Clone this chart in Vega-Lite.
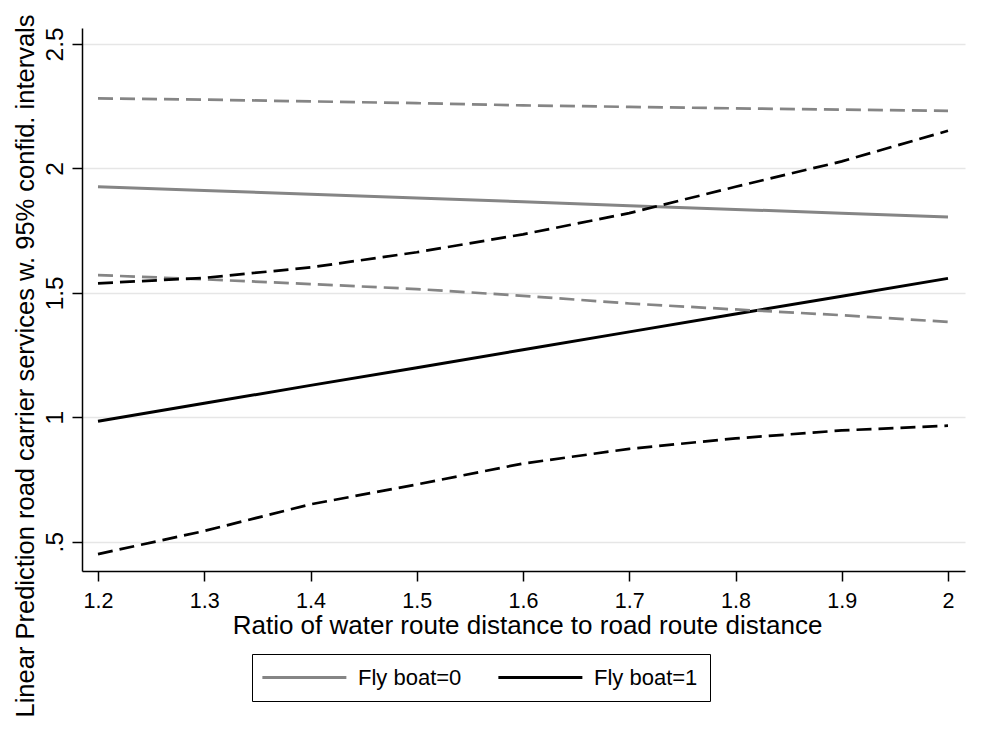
{
  "$schema": "https://vega.github.io/schema/vega-lite/v6.json",
  "width": 883,
  "height": 543,
  "autosize": {"type": "none"},
  "padding": {"left": 82, "top": 28, "right": 16, "bottom": 159},
  "background": "white",
  "config": {"view": {"stroke": null}, "font": "Liberation Sans"},
  "data": {"values": [
    {"ratio": 1.2, "group": "Fly boat=0", "kind": "fit", "value": 1.926},
    {"ratio": 1.3, "group": "Fly boat=0", "kind": "fit", "value": 1.911},
    {"ratio": 1.4, "group": "Fly boat=0", "kind": "fit", "value": 1.896},
    {"ratio": 1.5, "group": "Fly boat=0", "kind": "fit", "value": 1.881},
    {"ratio": 1.6, "group": "Fly boat=0", "kind": "fit", "value": 1.866},
    {"ratio": 1.7, "group": "Fly boat=0", "kind": "fit", "value": 1.850},
    {"ratio": 1.8, "group": "Fly boat=0", "kind": "fit", "value": 1.835},
    {"ratio": 1.9, "group": "Fly boat=0", "kind": "fit", "value": 1.820},
    {"ratio": 2.0, "group": "Fly boat=0", "kind": "fit", "value": 1.805},
    {"ratio": 1.2, "group": "Fly boat=0", "kind": "lower", "value": 1.571},
    {"ratio": 1.3, "group": "Fly boat=0", "kind": "lower", "value": 1.554},
    {"ratio": 1.4, "group": "Fly boat=0", "kind": "lower", "value": 1.535},
    {"ratio": 1.5, "group": "Fly boat=0", "kind": "lower", "value": 1.515},
    {"ratio": 1.6, "group": "Fly boat=0", "kind": "lower", "value": 1.488},
    {"ratio": 1.7, "group": "Fly boat=0", "kind": "lower", "value": 1.457},
    {"ratio": 1.8, "group": "Fly boat=0", "kind": "lower", "value": 1.433},
    {"ratio": 1.9, "group": "Fly boat=0", "kind": "lower", "value": 1.410},
    {"ratio": 2.0, "group": "Fly boat=0", "kind": "lower", "value": 1.383},
    {"ratio": 1.2, "group": "Fly boat=0", "kind": "upper", "value": 2.281},
    {"ratio": 1.3, "group": "Fly boat=0", "kind": "upper", "value": 2.276},
    {"ratio": 1.4, "group": "Fly boat=0", "kind": "upper", "value": 2.269},
    {"ratio": 1.5, "group": "Fly boat=0", "kind": "upper", "value": 2.262},
    {"ratio": 1.6, "group": "Fly boat=0", "kind": "upper", "value": 2.253},
    {"ratio": 1.7, "group": "Fly boat=0", "kind": "upper", "value": 2.247},
    {"ratio": 1.8, "group": "Fly boat=0", "kind": "upper", "value": 2.241},
    {"ratio": 1.9, "group": "Fly boat=0", "kind": "upper", "value": 2.236},
    {"ratio": 2.0, "group": "Fly boat=0", "kind": "upper", "value": 2.231},
    {"ratio": 1.2, "group": "Fly boat=1", "kind": "fit", "value": 0.984},
    {"ratio": 1.3, "group": "Fly boat=1", "kind": "fit", "value": 1.056},
    {"ratio": 1.4, "group": "Fly boat=1", "kind": "fit", "value": 1.128},
    {"ratio": 1.5, "group": "Fly boat=1", "kind": "fit", "value": 1.199},
    {"ratio": 1.6, "group": "Fly boat=1", "kind": "fit", "value": 1.271},
    {"ratio": 1.7, "group": "Fly boat=1", "kind": "fit", "value": 1.343},
    {"ratio": 1.8, "group": "Fly boat=1", "kind": "fit", "value": 1.415},
    {"ratio": 1.9, "group": "Fly boat=1", "kind": "fit", "value": 1.486},
    {"ratio": 2.0, "group": "Fly boat=1", "kind": "fit", "value": 1.558},
    {"ratio": 1.2, "group": "Fly boat=1", "kind": "lower", "value": 0.450},
    {"ratio": 1.3, "group": "Fly boat=1", "kind": "lower", "value": 0.543},
    {"ratio": 1.4, "group": "Fly boat=1", "kind": "lower", "value": 0.650},
    {"ratio": 1.5, "group": "Fly boat=1", "kind": "lower", "value": 0.730},
    {"ratio": 1.6, "group": "Fly boat=1", "kind": "lower", "value": 0.814},
    {"ratio": 1.7, "group": "Fly boat=1", "kind": "lower", "value": 0.873},
    {"ratio": 1.8, "group": "Fly boat=1", "kind": "lower", "value": 0.915},
    {"ratio": 1.9, "group": "Fly boat=1", "kind": "lower", "value": 0.947},
    {"ratio": 2.0, "group": "Fly boat=1", "kind": "lower", "value": 0.966},
    {"ratio": 1.2, "group": "Fly boat=1", "kind": "upper", "value": 1.538},
    {"ratio": 1.3, "group": "Fly boat=1", "kind": "upper", "value": 1.560},
    {"ratio": 1.4, "group": "Fly boat=1", "kind": "upper", "value": 1.602},
    {"ratio": 1.5, "group": "Fly boat=1", "kind": "upper", "value": 1.663},
    {"ratio": 1.6, "group": "Fly boat=1", "kind": "upper", "value": 1.735},
    {"ratio": 1.7, "group": "Fly boat=1", "kind": "upper", "value": 1.820},
    {"ratio": 1.8, "group": "Fly boat=1", "kind": "upper", "value": 1.926},
    {"ratio": 1.9, "group": "Fly boat=1", "kind": "upper", "value": 2.028},
    {"ratio": 2.0, "group": "Fly boat=1", "kind": "upper", "value": 2.151}
  ]},
  "encoding": {
    "x": {
      "field": "ratio", "type": "quantitative",
      "scale": {"domain": [1.18494, 2.016], "nice": false, "zero": false},
      "axis": {
        "title": "Ratio of water route distance to road route distance",
        "values": [1.2, 1.3, 1.4, 1.5, 1.6, 1.7, 1.8, 1.9, 2],
        "format": "~g",
        "grid": false,
        "domainColor": "#000", "domainWidth": 1.5,
        "tickColor": "#000", "tickSize": 10, "tickWidth": 1.5,
        "labelFontSize": 21.5, "labelColor": "#000", "labelPadding": 9,
        "labelFlush": false, "labelOverlap": false,
        "titleFontSize": 26, "titleFontWeight": "normal", "titleColor": "#000",
        "titleBaseline": "alphabetic", "titleY": 62, "titleX": 445
      }
    },
    "y": {
      "field": "value", "type": "quantitative",
      "scale": {"domain": [0.3822, 2.5639], "nice": false, "zero": false},
      "axis": {
        "title": "Linear Prediction road carrier services w. 95% confid. intervals",
        "values": [0.5, 1, 1.5, 2, 2.5],
        "labelExpr": "datum.value == 0.5 ? '.5' : format(datum.value, '~g')",
        "grid": true, "gridColor": "#e6e6e6", "gridWidth": 1.5,
        "domainColor": "#000", "domainWidth": 1.5,
        "tickColor": "#000", "tickSize": 10, "tickWidth": 1.5,
        "labelAngle": -90, "labelAlign": "center", "labelBaseline": "alphabetic",
        "labelPadding": 10, "labelFontSize": 24.5, "labelColor": "#000",
        "titleFontSize": 25.5, "titleFontWeight": "normal", "titleColor": "#000",
        "titleAngle": -90, "titleAlign": "center", "titleBaseline": "alphabetic",
        "titleX": -49, "titleY": 337.5
      }
    }
  },
  "layer": [
    {
      "transform": [{"filter": "datum.kind == 'fit'"}],
      "mark": {"type": "line", "strokeWidth": 3},
      "encoding": {
        "color": {
          "field": "group", "type": "nominal",
          "scale": {"domain": ["Fly boat=0", "Fly boat=1"], "range": ["#858585", "#000000"]},
          "legend": {
            "orient": "none", "legendX": 170, "legendY": 626,
            "direction": "horizontal", "title": null,
            "strokeColor": "#000", "padding": 12.5,
            "symbolType": "M-2.5,0L13.5,0", "symbolSize": 110.25, "symbolStrokeWidth": 3,
            "labelFontSize": 22, "labelColor": "#000", "labelOffset": 71.5,
            "columnPadding": 30, "labelLimit": 300
          }
        }
      }
    },
    {
      "transform": [{"filter": "datum.kind != 'fit'"}],
      "mark": {"type": "line", "strokeWidth": 2.7, "strokeDash": [15, 7]},
      "encoding": {
        "color": {"field": "group", "type": "nominal", "legend": null},
        "detail": {"field": "kind", "type": "nominal"}
      }
    }
  ]
}
